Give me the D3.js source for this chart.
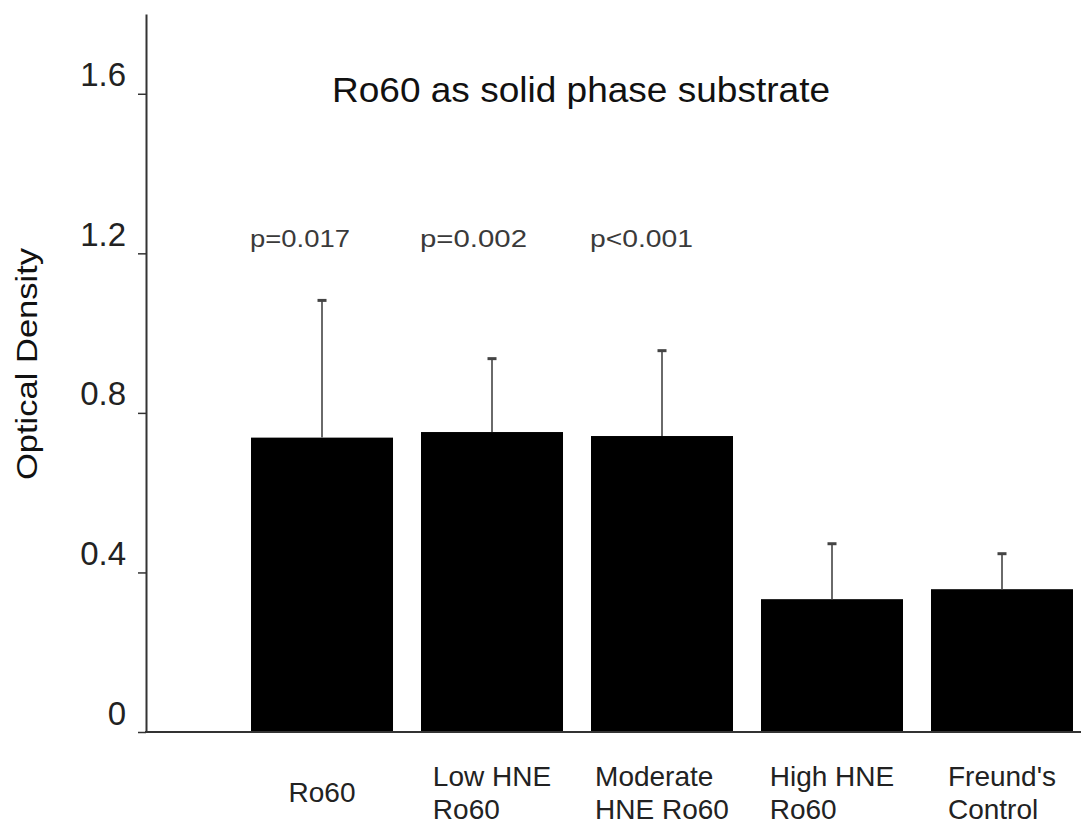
<!DOCTYPE html>
<html>
<head>
<meta charset="utf-8">
<script src="https://cdn.jsdelivr.net/npm/d3@7"></script>
<style>
  html, body { margin: 0; padding: 0; background: #fff; }
  svg { display: block; font-family: "Liberation Sans", Arial, sans-serif; }
</style>
</head>
<body>
<svg id="chart" width="1081" height="823"></svg>
<script>
// ---- data ----
const categories = ["Ro60", "Low HNE Ro60", "Moderate HNE Ro60", "High HNE Ro60", "Freund's Control"];
const categoryLines = [["Ro60"], ["Low HNE", "Ro60"], ["Moderate", "HNE Ro60"], ["High HNE", "Ro60"], ["Freund's", "Control"]];
const meanValues = [0.738, 0.752, 0.742, 0.333, 0.358];
const sdValues = [0.344, 0.184, 0.214, 0.139, 0.089];
const pCategories = ["Ro60", "Low HNE Ro60", "Moderate HNE Ro60"];
const pLabels = ["p=0.017", "p=0.002", "p<0.001"];
const tickValues = [0, 0.4, 0.8, 1.2, 1.6];
const tickLabels = ["0", "0.4", "0.8", "1.2", "1.6"];
const titleText = "Ro60 as solid phase substrate";
const yTitle = "Optical Density";

// ---- layout ----
const svg = d3.select("#chart");
const axisX = 146, baseY = 732, topY = 14;

const y = d3.scaleLinear().domain([0, 1.8]).range([baseY, topY]);
const x = d3.scaleBand().domain(categories).range([237, 1087])
  .paddingInner(0.1647).paddingOuter(0.0824);

// bars
svg.append("g").selectAll("rect").data(categories).join("rect")
  .attr("x", d => x(d))
  .attr("y", (d, i) => y(meanValues[i]))
  .attr("width", x.bandwidth())
  .attr("height", (d, i) => y(0) - y(meanValues[i]))
  .attr("fill", "#000");

// error bars
const eb = svg.append("g");
eb.selectAll("line.v").data(categories).join("line").attr("class", "v")
  .attr("x1", d => x(d) + x.bandwidth() / 2)
  .attr("x2", d => x(d) + x.bandwidth() / 2)
  .attr("y1", (d, i) => y(meanValues[i]))
  .attr("y2", (d, i) => y(meanValues[i] + sdValues[i]))
  .attr("stroke", "#6a6a6a").attr("stroke-width", 2);
eb.selectAll("line.c").data(categories).join("line").attr("class", "c")
  .attr("x1", d => x(d) + x.bandwidth() / 2 - 4.5)
  .attr("x2", d => x(d) + x.bandwidth() / 2 + 4.5)
  .attr("y1", (d, i) => y(meanValues[i] + sdValues[i]))
  .attr("y2", (d, i) => y(meanValues[i] + sdValues[i]))
  .attr("stroke", "#444").attr("stroke-width", 3);

// y axis
const yAxis = d3.axisLeft(y).tickValues(tickValues)
  .tickFormat((d, i) => tickLabels[i]).tickSize(8).tickSizeOuter(0).tickPadding(12);
const gy = svg.append("g").attr("transform", `translate(${axisX},0)`).call(yAxis);
gy.select(".domain").attr("stroke", "#333").attr("stroke-width", 2);
gy.selectAll(".tick line").attr("stroke", "#333").attr("stroke-width", 1.5);
gy.selectAll(".tick text")
  .attr("dy", -8)
  .attr("font-size", 33)
  .attr("font-family", "Liberation Sans, Arial, sans-serif")
  .attr("fill", "#222");

// x axis baseline
svg.append("line")
  .attr("x1", axisX - 1).attr("x2", 1081)
  .attr("y1", y(0)).attr("y2", y(0))
  .attr("stroke", "#333").attr("stroke-width", 2);

// title
svg.append("text")
  .attr("x", 332).attr("y", 102)
  .attr("font-size", 35)
  .attr("textLength", 498).attr("lengthAdjust", "spacingAndGlyphs")
  .attr("fill", "#111")
  .text(titleText);

// p-values
svg.append("g").selectAll("text").data(pCategories).join("text")
  .attr("x", d => x(d) - 1)
  .attr("y", 247)
  .attr("font-size", 24)
  .attr("textLength", (d, i) => [100, 107, 103][i])
  .attr("lengthAdjust", "spacingAndGlyphs")
  .attr("fill", "#3a3a3a")
  .text((d, i) => pLabels[i]);

// y axis title
svg.append("text")
  .attr("transform", "translate(37,364) rotate(-90)")
  .attr("text-anchor", "middle")
  .attr("font-size", 30)
  .attr("textLength", 232).attr("lengthAdjust", "spacingAndGlyphs")
  .attr("fill", "#111")
  .text(yTitle);

// category labels (lines left-aligned, block centred on bar)
const lblG = svg.append("g");
categories.forEach((c, i) => {
  const lines = categoryLines[i];
  const g = lblG.append("g");
  const texts = lines.map((ln, j) => g.append("text")
    .attr("y", 802 - (lines.length - 1) * 16.5 + j * 33)
    .attr("font-size", 28)
    .attr("fill", "#222")
    .text(ln));
  const w = d3.max(texts, t => t.node().getComputedTextLength());
  texts.forEach(t => t.attr("x", x(c) + x.bandwidth() / 2 - w / 2));
});
</script>
</body>
</html>
